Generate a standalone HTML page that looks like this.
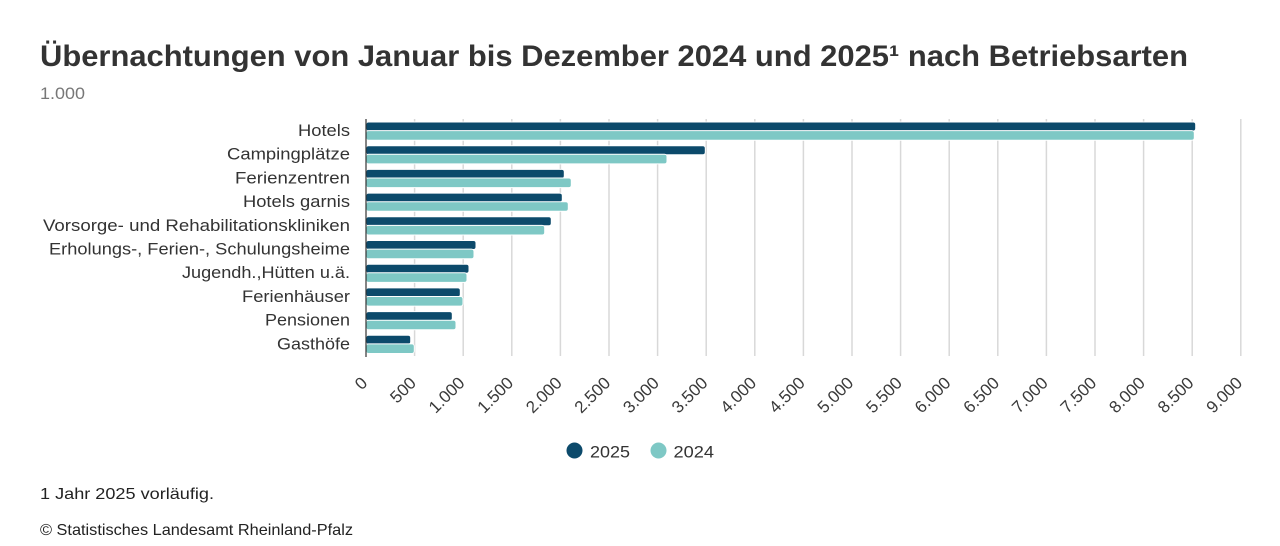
<!DOCTYPE html>
<html>
<head>
<meta charset="utf-8">
<style>
html,body{margin:0;padding:0;background:#fff;}
svg{display:block;}
text{font-family:"Liberation Sans", Arial, sans-serif;}
</style>
</head>
<body>
<svg width="1280" height="546" viewBox="0 0 1280 546" xmlns="http://www.w3.org/2000/svg">
  <rect width="1280" height="546" fill="#fff"/>
  <!-- Title -->
  <text x="40" y="66" font-size="30" font-weight="bold" fill="#333" textLength="1148" lengthAdjust="spacingAndGlyphs">Übernachtungen von Januar bis Dezember 2024 und 2025¹ nach Betriebsarten</text>
  <text x="40" y="99" font-size="16.5" fill="#777" textLength="45" lengthAdjust="spacingAndGlyphs">1.000</text>

  <!-- gridlines -->
  <g stroke="#d8d8d8" stroke-width="1.5">
    <line x1="414.6" y1="119" x2="414.6" y2="356"/>
    <line x1="463.2" y1="119" x2="463.2" y2="356"/>
    <line x1="511.8" y1="119" x2="511.8" y2="356"/>
    <line x1="560.4" y1="119" x2="560.4" y2="356"/>
    <line x1="609.0" y1="119" x2="609.0" y2="356"/>
    <line x1="657.6" y1="119" x2="657.6" y2="356"/>
    <line x1="706.2" y1="119" x2="706.2" y2="356"/>
    <line x1="754.8" y1="119" x2="754.8" y2="356"/>
    <line x1="803.4" y1="119" x2="803.4" y2="356"/>
    <line x1="852.0" y1="119" x2="852.0" y2="356"/>
    <line x1="900.6" y1="119" x2="900.6" y2="356"/>
    <line x1="949.2" y1="119" x2="949.2" y2="356"/>
    <line x1="997.8" y1="119" x2="997.8" y2="356"/>
    <line x1="1046.4" y1="119" x2="1046.4" y2="356"/>
    <line x1="1095.0" y1="119" x2="1095.0" y2="356"/>
    <line x1="1143.6" y1="119" x2="1143.6" y2="356"/>
    <line x1="1192.2" y1="119" x2="1192.2" y2="356"/>
    <line x1="1240.8" y1="119" x2="1240.8" y2="356"/>
  </g>

  <!-- bars -->
  <g stroke="#fff" stroke-width="1">
    <rect x="366" y="122.0" width="829.7" height="9" rx="2.5" fill="#0c4a6b"/>
    <rect x="366" y="130.6" width="828.3" height="9.6" rx="2.5" fill="#7ec8c5"/>

    <rect x="366" y="145.7" width="339.3" height="9" rx="2.5" fill="#0c4a6b"/>
    <rect x="366" y="154.3" width="301.0" height="9.6" rx="2.5" fill="#7ec8c5"/>

    <rect x="366" y="169.4" width="198.3" height="9" rx="2.5" fill="#0c4a6b"/>
    <rect x="366" y="178.0" width="205.3" height="9.6" rx="2.5" fill="#7ec8c5"/>

    <rect x="366" y="193.1" width="196.3" height="9" rx="2.5" fill="#0c4a6b"/>
    <rect x="366" y="201.7" width="202.3" height="9.6" rx="2.5" fill="#7ec8c5"/>

    <rect x="366" y="216.8" width="185.3" height="9" rx="2.5" fill="#0c4a6b"/>
    <rect x="366" y="225.4" width="178.7" height="9.6" rx="2.5" fill="#7ec8c5"/>

    <rect x="366" y="240.5" width="110.0" height="9" rx="2.5" fill="#0c4a6b"/>
    <rect x="366" y="249.1" width="108.0" height="9.6" rx="2.5" fill="#7ec8c5"/>

    <rect x="366" y="264.2" width="103.0" height="9" rx="2.5" fill="#0c4a6b"/>
    <rect x="366" y="272.8" width="101.0" height="9.6" rx="2.5" fill="#7ec8c5"/>

    <rect x="366" y="287.9" width="94.3" height="9" rx="2.5" fill="#0c4a6b"/>
    <rect x="366" y="296.5" width="97.0" height="9.6" rx="2.5" fill="#7ec8c5"/>

    <rect x="366" y="311.6" width="86.3" height="9" rx="2.5" fill="#0c4a6b"/>
    <rect x="366" y="320.2" width="90.0" height="9.6" rx="2.5" fill="#7ec8c5"/>

    <rect x="366" y="335.3" width="44.7" height="9" rx="2.5" fill="#0c4a6b"/>
    <rect x="366" y="343.9" width="48.3" height="9.6" rx="2.5" fill="#7ec8c5"/>
  </g>

  <!-- axis line -->
  <line x1="366" y1="119" x2="366" y2="357" stroke="#333" stroke-width="1.2"/>

  <!-- category labels -->
  <g font-size="17" fill="#333" text-anchor="end">
    <text x="350" y="136" textLength="52" lengthAdjust="spacingAndGlyphs">Hotels</text>
    <text x="350" y="159.7" textLength="123" lengthAdjust="spacingAndGlyphs">Campingplätze</text>
    <text x="350" y="183.4" textLength="115" lengthAdjust="spacingAndGlyphs">Ferienzentren</text>
    <text x="350" y="207.1" textLength="107" lengthAdjust="spacingAndGlyphs">Hotels garnis</text>
    <text x="350" y="230.8" textLength="307" lengthAdjust="spacingAndGlyphs">Vorsorge- und Rehabilitationskliniken</text>
    <text x="350" y="254.5" textLength="301" lengthAdjust="spacingAndGlyphs">Erholungs-, Ferien-, Schulungsheime</text>
    <text x="350" y="278.2" textLength="168" lengthAdjust="spacingAndGlyphs">Jugendh.,Hütten u.ä.</text>
    <text x="350" y="301.9" textLength="108" lengthAdjust="spacingAndGlyphs">Ferienhäuser</text>
    <text x="350" y="325.6" textLength="85" lengthAdjust="spacingAndGlyphs">Pensionen</text>
    <text x="350" y="349.3" textLength="73" lengthAdjust="spacingAndGlyphs">Gasthöfe</text>
  </g>

  <!-- x tick labels -->
  <g font-size="17" fill="#3a3a3a" text-anchor="end">
    <text transform="translate(368.5,384) rotate(-45)">0</text>
    <text transform="translate(417.1,384) rotate(-45)">500</text>
    <text transform="translate(465.7,384) rotate(-45)">1.000</text>
    <text transform="translate(514.3,384) rotate(-45)">1.500</text>
    <text transform="translate(562.9,384) rotate(-45)">2.000</text>
    <text transform="translate(611.5,384) rotate(-45)">2.500</text>
    <text transform="translate(660.1,384) rotate(-45)">3.000</text>
    <text transform="translate(708.7,384) rotate(-45)">3.500</text>
    <text transform="translate(757.3,384) rotate(-45)">4.000</text>
    <text transform="translate(805.9,384) rotate(-45)">4.500</text>
    <text transform="translate(854.5,384) rotate(-45)">5.000</text>
    <text transform="translate(903.1,384) rotate(-45)">5.500</text>
    <text transform="translate(951.7,384) rotate(-45)">6.000</text>
    <text transform="translate(1000.3,384) rotate(-45)">6.500</text>
    <text transform="translate(1048.9,384) rotate(-45)">7.000</text>
    <text transform="translate(1097.5,384) rotate(-45)">7.500</text>
    <text transform="translate(1146.1,384) rotate(-45)">8.000</text>
    <text transform="translate(1194.7,384) rotate(-45)">8.500</text>
    <text transform="translate(1243.3,384) rotate(-45)">9.000</text>
  </g>

  <!-- legend -->
  <circle cx="574.5" cy="450.5" r="8" fill="#0c4a6b"/>
  <text x="590" y="457.5" font-size="17" fill="#333" textLength="40" lengthAdjust="spacingAndGlyphs">2025</text>
  <circle cx="658.5" cy="450.5" r="8" fill="#7ec8c5"/>
  <text x="673.5" y="457.5" font-size="17" fill="#333" textLength="40.5" lengthAdjust="spacingAndGlyphs">2024</text>

  <!-- footnotes -->
  <text x="40" y="499" font-size="16" fill="#222" textLength="174" lengthAdjust="spacingAndGlyphs">1 Jahr 2025 vorläufig.</text>
  <text x="40" y="535" font-size="16" fill="#222" textLength="313" lengthAdjust="spacingAndGlyphs">© Statistisches Landesamt Rheinland-Pfalz</text>
</svg>
</body>
</html>
